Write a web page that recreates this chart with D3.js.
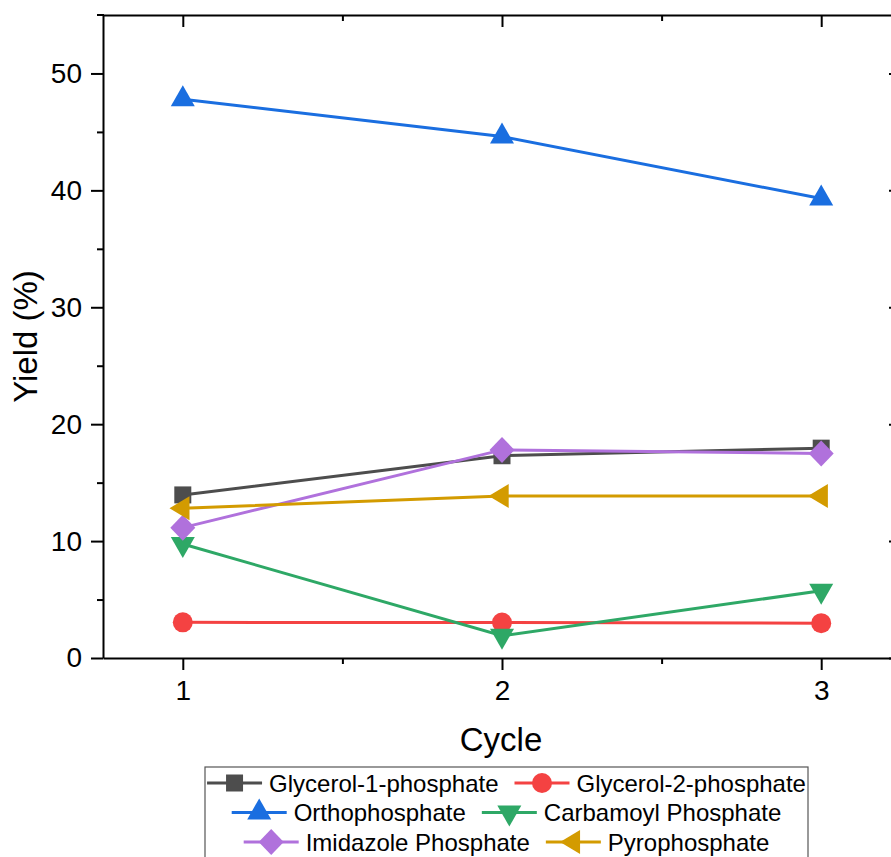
<!DOCTYPE html>
<html>
<head>
<meta charset="utf-8">
<script src="https://cdn.jsdelivr.net/npm/d3@7"></script>
<style>
  html, body { margin: 0; padding: 0; background: #fff; }
  svg { display: block; font-family: "Liberation Sans", Arial, sans-serif; }
</style>
</head>
<body>
<svg id="chart" width="891" height="857"></svg>
<script>
// Yield of each phosphate species over three reaction cycles
const cycles = [1, 2, 3];
const seriesNames = ["Glycerol-1-phosphate", "Glycerol-2-phosphate", "Orthophosphate",
                     "Carbamoyl Phosphate", "Imidazole Phosphate", "Pyrophosphate"];
const glycerol1 = [13.95, 17.3, 17.95];
const glycerol2 = [3.05, 3.03, 2.98];
const ortho = [47.8, 44.6, 39.3];
const carbamoyl = [9.75, 1.9, 5.75];
const imidazole = [11.15, 17.8, 17.5];
const pyro = [12.8, 13.85, 13.85];
const seriesColors = ["#4d4d4d", "#f44242", "#1a6ee0", "#2ea866", "#b071dc", "#d39b00"];
const seriesShapes = ["square", "circle", "triangleUp", "triangleDown", "diamond", "triangleLeft"];
const yTicks = [0, 10, 20, 30, 40, 50];
const yMinorTicks = [5, 15, 25, 35, 45];
const xTicks = [1, 2, 3];
const xMinorTicks = [1.5, 2.5];

const seriesValues = [glycerol1, glycerol2, ortho, carbamoyl, imidazole, pyro];
const series = seriesNames.map((name, i) => ({
  name, color: seriesColors[i], shape: seriesShapes[i],
  points: cycles.map((c, j) => ({ x: c, y: seriesValues[i][j] }))
}));

const svg = d3.select("#chart");
const plotLeft = 103, plotRight = 901, plotTop = 15, plotBottom = 658;
const x = d3.scaleLinear().domain([0.75, 3.25]).range([plotLeft, plotRight]);
const y = d3.scaleLinear().domain([0, 55]).range([plotBottom, plotTop]);

// marker outlines, centred on the data point (triangles on their centroid)
function markerPath(shape) {
  switch (shape) {
    case "square": return "M-8.5,-8.5H8.5V8.5H-8.5Z";
    case "circle": return "M10,0A10,10 0 1,1 -10,0A10,10 0 1,1 10,0Z";
    case "triangleUp": return "M0,-14L12,7L-12,7Z";
    case "triangleDown": return "M0,14L12,-7L-12,-7Z";
    case "triangleLeft": return "M-13.3,0L6.7,-12L6.7,12Z";
    case "diamond": return "M0,-13L12.5,0L0,13L-12.5,0Z";
  }
}

// axes
const axes = svg.append("g");

axes.append("g").attr("transform", `translate(0,${plotBottom})`)
  .call(d3.axisBottom(x).tickValues(xTicks).tickSize(12).tickSizeOuter(0).tickPadding(10).tickFormat(d3.format("d")));
axes.append("g").attr("transform", `translate(0,${plotBottom})`)
  .call(d3.axisBottom(x).tickValues(xMinorTicks).tickSize(6).tickSizeOuter(0).tickFormat(""))
  .call(g => g.select(".domain").remove());

axes.append("g").attr("transform", `translate(${plotLeft},0)`)
  .call(d3.axisLeft(y).tickValues(yTicks).tickSize(12).tickSizeOuter(0).tickPadding(9).tickFormat(d3.format("d")));
axes.append("g").attr("transform", `translate(${plotLeft},0)`)
  .call(d3.axisLeft(y).tickValues(yMinorTicks).tickSize(6).tickSizeOuter(0).tickFormat(""))
  .call(g => g.select(".domain").remove());

// mirrored top and right axes with inward ticks
axes.append("g").attr("transform", `translate(0,${plotTop})`)
  .call(d3.axisTop(x).tickValues(xTicks).tickSize(-12).tickSizeOuter(0).tickFormat(""));
axes.append("g").attr("transform", `translate(0,${plotTop})`)
  .call(d3.axisTop(x).tickValues(xMinorTicks).tickSize(-6).tickSizeOuter(0).tickFormat(""))
  .call(g => g.select(".domain").remove());
axes.append("g").attr("transform", `translate(${plotRight},0)`)
  .call(d3.axisRight(y).tickValues(yTicks).tickSize(-12).tickSizeOuter(0).tickFormat(""));
axes.append("g").attr("transform", `translate(${plotRight},0)`)
  .call(d3.axisRight(y).tickValues(yMinorTicks).tickSize(-6).tickSizeOuter(0).tickFormat(""))
  .call(g => g.select(".domain").remove());

axes.selectAll("path, line").attr("stroke", "#000").attr("stroke-width", 2);
axes.selectAll(".tick text").attr("fill", "#000").attr("font-size", 28)
  .attr("font-family", "'Liberation Sans', Arial, sans-serif");
// extend the top frame line past the left axis corner
axes.append("line").attr("x1", plotLeft - 6).attr("x2", plotLeft + 1)
  .attr("y1", plotTop).attr("y2", plotTop)
  .attr("stroke", "#000").attr("stroke-width", 2);

// axis titles
svg.append("text").attr("x", (plotLeft + plotRight) / 2 - 1).attr("y", 751)
  .attr("text-anchor", "middle").attr("font-size", 33).attr("fill", "#000").text("Cycle");
svg.append("text").attr("transform", `translate(37,${(plotTop + plotBottom) / 2}) rotate(-90)`)
  .attr("text-anchor", "middle").attr("font-size", 33).attr("fill", "#000").text("Yield (%)");

// series lines and markers
const line = d3.line().x(d => x(d.x)).y(d => y(d.y));
const plot = svg.append("g");
series.forEach(s => {
  const g = plot.append("g");
  g.append("path").datum(s.points).attr("d", line)
    .attr("fill", "none").attr("stroke", s.color).attr("stroke-width", 3);
  g.selectAll("path.m").data(s.points).join("path").attr("class", "m")
    .attr("d", markerPath(s.shape))
    .attr("transform", d => `translate(${x(d.x)},${y(d.y)})`)
    .attr("fill", s.color);
});

// legend: three centred rows of two entries
const legendRows = [[0, 1], [2, 3], [4, 5]];
const legendTop = 767, legendLeft = 205, legendRight = 808;
const legend = svg.append("g");
legend.append("rect").attr("x", legendLeft).attr("y", legendTop)
  .attr("width", legendRight - legendLeft).attr("height", 120)
  .attr("fill", "#fff").attr("stroke", "#555").attr("stroke-width", 1.2);
const symW = 55, symGap = 7, itemGap = 16, rowStart = 783, rowStep = 29.5;
const legendCenter = (legendLeft + legendRight) / 2;
legendRows.forEach((row, r) => {
  const cy = rowStart + r * rowStep;
  const items = row.map(i => {
    const g = legend.append("g");
    const t = g.append("text").attr("font-size", 24).attr("fill", "#000")
      .attr("dominant-baseline", "central").attr("x", symW + symGap).attr("y", 0)
      .text(series[i].name);
    return { g, i, w: symW + symGap + t.node().getComputedTextLength() };
  });
  const total = d3.sum(items, d => d.w) + itemGap * (items.length - 1);
  let cx = legendCenter - total / 2;
  items.forEach(it => {
    const s = series[it.i];
    it.g.attr("transform", `translate(${cx},${cy})`);
    it.g.insert("line", "text").attr("x1", 0).attr("x2", symW).attr("y1", 0).attr("y2", 0)
      .attr("stroke", s.color).attr("stroke-width", 3);
    it.g.insert("path", "text").attr("d", markerPath(s.shape))
      .attr("transform", `translate(${symW / 2},0)`).attr("fill", s.color);
    cx += it.w + itemGap;
  });
});
</script>
</body>
</html>
